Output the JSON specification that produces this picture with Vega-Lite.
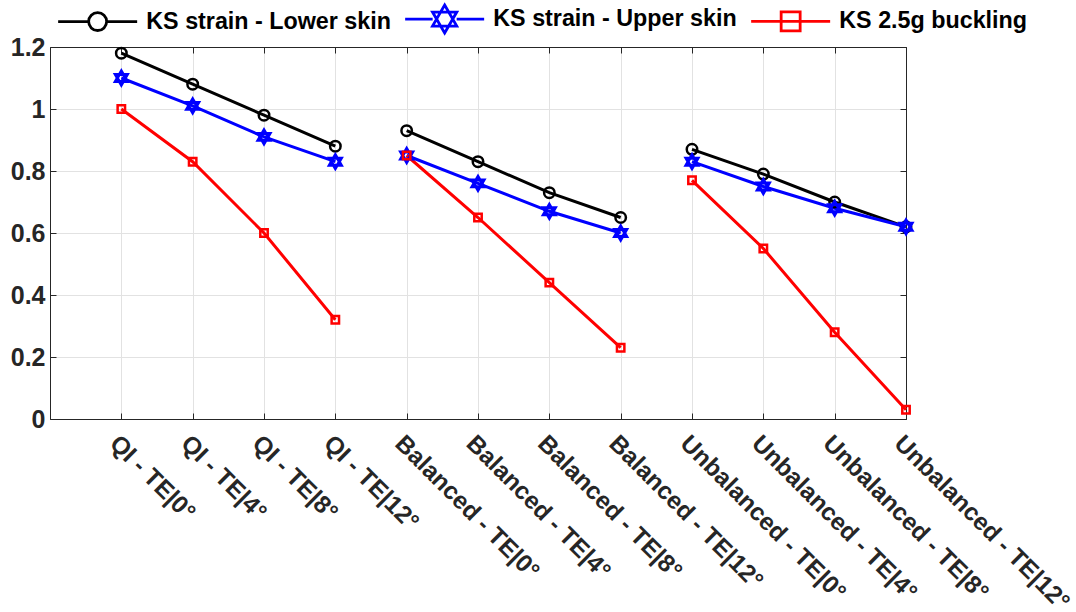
{
  "$schema": "https://vega.github.io/schema/vega-lite/v6.json",
  "width": 856,
  "height": 372,
  "autosize": {"type": "none"},
  "padding": {"left": 50, "top": 47, "right": 170, "bottom": 193},
  "background": "white",
  "config": {
    "font": "Liberation Sans",
    "view": {"stroke": "#262626", "strokeWidth": 1}
  },
  "data": {
    "values": [
      {"pos": 1, "group": "QI", "series": "KS strain - Lower skin", "value": 1.18},
      {"pos": 2, "group": "QI", "series": "KS strain - Lower skin", "value": 1.08},
      {"pos": 3, "group": "QI", "series": "KS strain - Lower skin", "value": 0.98},
      {"pos": 4, "group": "QI", "series": "KS strain - Lower skin", "value": 0.88},
      {"pos": 5, "group": "Balanced", "series": "KS strain - Lower skin", "value": 0.93},
      {"pos": 6, "group": "Balanced", "series": "KS strain - Lower skin", "value": 0.83},
      {"pos": 7, "group": "Balanced", "series": "KS strain - Lower skin", "value": 0.73},
      {"pos": 8, "group": "Balanced", "series": "KS strain - Lower skin", "value": 0.65},
      {"pos": 9, "group": "Unbalanced", "series": "KS strain - Lower skin", "value": 0.87},
      {"pos": 10, "group": "Unbalanced", "series": "KS strain - Lower skin", "value": 0.79},
      {"pos": 11, "group": "Unbalanced", "series": "KS strain - Lower skin", "value": 0.70},
      {"pos": 12, "group": "Unbalanced", "series": "KS strain - Lower skin", "value": 0.62},
      {"pos": 1, "group": "QI", "series": "KS strain - Upper skin", "value": 1.10},
      {"pos": 2, "group": "QI", "series": "KS strain - Upper skin", "value": 1.01},
      {"pos": 3, "group": "QI", "series": "KS strain - Upper skin", "value": 0.91},
      {"pos": 4, "group": "QI", "series": "KS strain - Upper skin", "value": 0.83},
      {"pos": 5, "group": "Balanced", "series": "KS strain - Upper skin", "value": 0.85},
      {"pos": 6, "group": "Balanced", "series": "KS strain - Upper skin", "value": 0.76},
      {"pos": 7, "group": "Balanced", "series": "KS strain - Upper skin", "value": 0.67},
      {"pos": 8, "group": "Balanced", "series": "KS strain - Upper skin", "value": 0.60},
      {"pos": 9, "group": "Unbalanced", "series": "KS strain - Upper skin", "value": 0.83},
      {"pos": 10, "group": "Unbalanced", "series": "KS strain - Upper skin", "value": 0.75},
      {"pos": 11, "group": "Unbalanced", "series": "KS strain - Upper skin", "value": 0.68},
      {"pos": 12, "group": "Unbalanced", "series": "KS strain - Upper skin", "value": 0.62},
      {"pos": 1, "group": "QI", "series": "KS 2.5g buckling", "value": 1.00},
      {"pos": 2, "group": "QI", "series": "KS 2.5g buckling", "value": 0.83},
      {"pos": 3, "group": "QI", "series": "KS 2.5g buckling", "value": 0.60},
      {"pos": 4, "group": "QI", "series": "KS 2.5g buckling", "value": 0.32},
      {"pos": 5, "group": "Balanced", "series": "KS 2.5g buckling", "value": 0.85},
      {"pos": 6, "group": "Balanced", "series": "KS 2.5g buckling", "value": 0.65},
      {"pos": 7, "group": "Balanced", "series": "KS 2.5g buckling", "value": 0.44},
      {"pos": 8, "group": "Balanced", "series": "KS 2.5g buckling", "value": 0.23},
      {"pos": 9, "group": "Unbalanced", "series": "KS 2.5g buckling", "value": 0.77},
      {"pos": 10, "group": "Unbalanced", "series": "KS 2.5g buckling", "value": 0.55},
      {"pos": 11, "group": "Unbalanced", "series": "KS 2.5g buckling", "value": 0.28},
      {"pos": 12, "group": "Unbalanced", "series": "KS 2.5g buckling", "value": 0.03}
    ]
  },
  "layer": [
    {
      "mark": {"type": "line", "strokeWidth": 3},
      "encoding": {
        "x": {
          "field": "pos",
          "type": "quantitative",
          "scale": {"domain": [0, 12], "nice": false, "zero": false},
          "axis": {
            "orient": "bottom",
            "title": null,
            "values": [1, 2, 3, 4, 5, 6, 7, 8, 9, 10, 11, 12],
            "labelExpr": "['QI - TE|0°','QI - TE|4°','QI - TE|8°','QI - TE|12°','Balanced - TE|0°','Balanced - TE|4°','Balanced - TE|8°','Balanced - TE|12°','Unbalanced - TE|0°','Unbalanced - TE|4°','Unbalanced - TE|8°','Unbalanced - TE|12°'][datum.value - 1]",
            "labelAngle": 45,
            "labelAlign": "left",
            "labelBaseline": "top",
            "labelFont": "Liberation Sans",
            "labelFontSize": 24.5,
            "labelFontWeight": "bold",
            "labelColor": "#262626",
            "labelLimit": 400,
            "labelPadding": 18,
            "labelOverlap": false,
            "labelFlush": false,
            "labelBound": false,
            "ticks": true,
            "tickSize": -6,
            "tickColor": "#262626",
            "domainColor": "#262626",
            "grid": true,
            "gridColor": "#e2e2e2",
            "gridWidth": 1
          }
        },
        "y": {
          "field": "value",
          "type": "quantitative",
          "scale": {"domain": [0, 1.2], "nice": false},
          "axis": {
            "orient": "left",
            "title": null,
            "values": [0, 0.2, 0.4, 0.6, 0.8, 1, 1.2],
            "format": "~g",
            "labelFont": "Liberation Sans",
            "labelFontSize": 25,
            "labelFontWeight": "bold",
            "labelColor": "#262626",
            "labelPadding": 11,
            "ticks": true,
            "tickSize": -6,
            "tickColor": "#262626",
            "domainColor": "#262626",
            "grid": true,
            "gridColor": "#e2e2e2",
            "gridWidth": 1
          }
        },
        "color": {
          "field": "series",
          "type": "nominal",
          "sort": ["KS strain - Lower skin", "KS strain - Upper skin", "KS 2.5g buckling"],
          "scale": {
            "domain": ["KS strain - Lower skin", "KS strain - Upper skin", "KS 2.5g buckling"],
            "range": ["#000000", "#0000ff", "#ff0000"]
          },
          "legend": {
            "title": null,
            "orient": "none",
            "direction": "horizontal",
            "legendX": 8,
            "legendY": -40,
            "padding": 0,
            "symbolSize": 400,
            "symbolStrokeWidth": 2.8,
            "symbolOffset": 28,
            "labelOffset": 37,
            "columnPadding": 8,
            "labelFont": "Liberation Sans",
            "labelFontSize": 23.3,
            "labelFontWeight": "bold",
            "labelColor": "#000000",
            "labelLimit": 400,
            "encode": {
              "symbols": {
                "update": {
                  "shape": {"signal": "datum.value === 'KS strain - Lower skin' ? 'M-3.95,0H-0.9M0.9,0H3.95M-0.9,0A0.9,0.9 0 1,0 0.9,0A0.9,0.9 0 1,0 -0.9,0' : datum.value === 'KS strain - Upper skin' ? 'M-3.95,0H-1.2M1.2,0H3.95M0,-1.4L1.212,0.7L-1.212,0.7ZM0,1.4L1.212,-0.7L-1.212,-0.7Z' : 'M-3.95,0H3.95M-0.95,-0.95H0.95V0.95H-0.95Z'"},
                  "size": {"value": 400},
                  "fill": {"value": "transparent"},
                  "strokeWidth": {"value": 2.8}
                }
              }
            }
          }
        },
        "detail": {"field": "group"}
      }
    },
    {
      "transform": [{"filter": "datum.series === 'KS strain - Lower skin'"}],
      "mark": {"type": "point", "shape": "circle", "size": 110, "filled": false, "color": "#000000", "strokeWidth": 2.5, "opacity": 1},
      "encoding": {
        "x": {
          "field": "pos",
          "type": "quantitative",
          "scale": {"domain": [0, 12], "nice": false, "zero": false},
          "axis": {
            "orient": "top",
            "title": null,
            "values": [1, 2, 3, 4, 5, 6, 7, 8, 9, 10, 11, 12],
            "labels": false,
            "ticks": true,
            "tickSize": -6,
            "tickColor": "#262626",
            "domainColor": "#262626",
            "grid": false
          }
        },
        "y": {
          "field": "value",
          "type": "quantitative",
          "scale": {"domain": [0, 1.2], "nice": false},
          "axis": {
            "orient": "right",
            "title": null,
            "values": [0, 0.2, 0.4, 0.6, 0.8, 1, 1.2],
            "labels": false,
            "ticks": true,
            "tickSize": -6,
            "tickColor": "#262626",
            "domainColor": "#262626",
            "grid": false
          }
        }
      }
    },
    {
      "transform": [{"filter": "datum.series === 'KS strain - Upper skin'"}],
      "mark": {"type": "point", "shape": "M0,-1L0.866,0.5L-0.866,0.5ZM0,1L0.866,-0.5L-0.866,-0.5Z", "size": 190, "filled": false, "color": "#0000ff", "strokeWidth": 3, "opacity": 1},
      "encoding": {
        "x": {"field": "pos", "type": "quantitative", "axis": null},
        "y": {"field": "value", "type": "quantitative", "axis": null}
      }
    },
    {
      "transform": [{"filter": "datum.series === 'KS 2.5g buckling'"}],
      "mark": {"type": "point", "shape": "square", "size": 55, "filled": false, "color": "#ff0000", "strokeWidth": 2.5, "opacity": 1},
      "encoding": {
        "x": {"field": "pos", "type": "quantitative", "axis": null},
        "y": {"field": "value", "type": "quantitative", "axis": null}
      }
    }
  ],
  "resolve": {"axis": {"x": "independent", "y": "independent"}}
}
